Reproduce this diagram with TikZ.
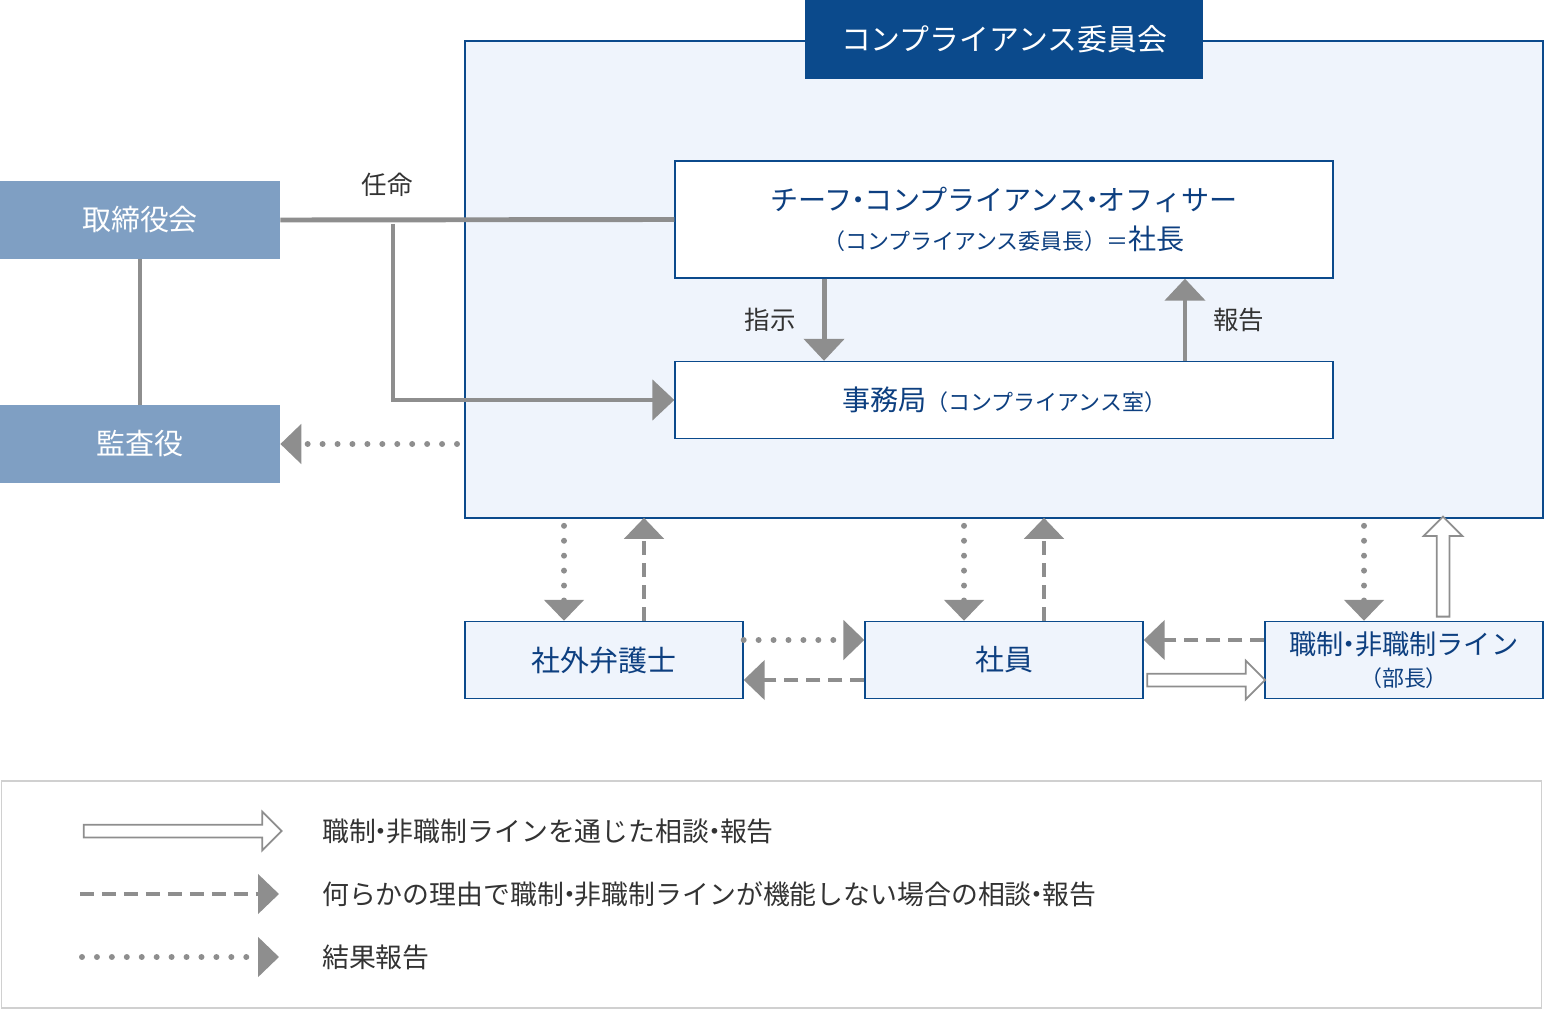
\documentclass[tikz,border=0pt]{standalone}
\usepackage{fontspec}
\setmainfont{Noto Sans CJK JP}
\usetikzlibrary{arrows.meta,shapes.arrows}
\definecolor{navy}{HTML}{0B4A8C}
\definecolor{inkblue}{HTML}{0D3F80}
\definecolor{paleblue}{HTML}{EFF4FC}
\definecolor{steel}{HTML}{7F9FC3}
\definecolor{midgray}{HTML}{8E8E8E}
\definecolor{framegray}{HTML}{D0D0D0}
\newcommand{\nkdot}{\kern-0.3em・\kern-0.3em}
\tikzset{
  side/.style={fill=steel,text=white,minimum width=5.6cm,minimum height=1.56cm,font=\fontsize{16.5}{19}\selectfont},
  unit/.style={draw=navy,line width=0.8pt,fill=paleblue,text=inkblue,minimum height=1.54cm,align=center},
  solid arr/.style={draw=midgray,line width=2.8pt,-{Triangle[length=0.44cm,width=0.8cm]}},
  plain/.style={draw=midgray,line width=2.8pt},
  dotted arr/.style={draw=midgray,line width=3.4pt,line cap=round,dash pattern=on 0pt off 8.5pt,-{Triangle[length=0.42cm,width=0.78cm]}},
  dashed arr/.style={draw=midgray,line width=2.8pt,dash pattern=on 8pt off 4.5pt,-{Triangle[length=0.42cm,width=0.78cm]}},
  hollow/.style={single arrow,draw=midgray,line width=1pt,fill=white,inner sep=0.11cm,
    single arrow head extend=0.26cm,single arrow head indent=0pt}
}
\begin{document}
\begin{tikzpicture}[x=0.02cm,y=-0.02cm]
    \useasboundingbox (0,0) rectangle (1544,1010);

    % committee frame
    \node[draw=navy,line width=0.8pt,fill=paleblue,minimum width=21.56cm,minimum height=9.54cm] (committee) at (1004,279.5) {};
    \node[fill=navy,text=white,minimum width=7.96cm,minimum height=1.58cm,font=\fontsize{17}{19}\selectfont] (title) at (1004,39.5) {コンプライアンス委員会};

    \node[side] (board) at (140,220) {取締役会};
    \node[side] (audit) at (140,444) {監査役};

    \node[unit,fill=white,minimum width=13.16cm,minimum height=2.34cm,font=\fontsize{16}{22}\selectfont] (cco) at (1004,219.5)
        {チーフ\nkdot コンプライアンス\nkdot オフィサー\\{\fontsize{12.5}{16}\selectfont （コンプライアンス委員長）＝}社長};
    \node[unit,fill=white,minimum width=13.16cm] (office) at (1004,400)
        {{\fontsize{16}{18}\selectfont 事務局}{\fontsize{12.5}{16}\selectfont （コンプライアンス室）}};

    \node[unit,minimum width=5.56cm,font=\fontsize{16.5}{19}\selectfont] (lawyer) at (604,660) {社外弁護士};
    \node[unit,minimum width=5.56cm,font=\fontsize{16.5}{19}\selectfont] (staff) at (1004,660) {社員};
    \node[unit,minimum width=5.56cm,font=\fontsize{15.5}{18}\selectfont] (line) at (1404,660)
        {職制\nkdot 非職制ライン\\{\fontsize{12.5}{15}\selectfont （部長）}};

    % upper links
    \draw[plain] (board) -- (audit);
    \draw[plain] (board.east) -- node[above=0.3cm,xshift=-1.8cm,text=black!80,font=\fontsize{14.5}{16}\selectfont] {任命} (cco.west);
    \coordinate (split) at (393,224);
    \draw[solid arr] (split) |- (office.west);
    \draw[solid arr] ([xshift=-3.6cm]cco.south) -- node[left=0.4cm,text=black!80,font=\fontsize{14.5}{16}\selectfont] {指示} ([xshift=-3.6cm]office.north);
    \draw[solid arr] ([xshift=3.62cm]office.north) -- node[right=0.4cm,text=black!80,font=\fontsize{14.5}{16}\selectfont] {報告} ([xshift=3.62cm]cco.south);
    \coordinate (report) at (457,444);
    \draw[dotted arr] (report) -- (audit.east);

    % lower links
    \foreach \unit in {lawyer,staff,line}{
        \draw[dotted arr] ([xshift=-0.8cm,yshift=1.9cm]\unit.north) -- ([xshift=-0.8cm]\unit.north);
    }
    \draw[dashed arr] ([xshift=0.8cm]lawyer.north) -- ([xshift=0.8cm,yshift=2.06cm]lawyer.north);
    \draw[dashed arr] ([xshift=0.8cm]staff.north) -- ([xshift=0.8cm,yshift=2.06cm]staff.north);
    \node[hollow,rotate=90,minimum height=2.0cm] (upline) at ([xshift=0.78cm,yshift=1.02cm]line.north) {};

    \draw[dotted arr] ([yshift=0.4cm]lawyer.east) -- ([yshift=0.4cm]staff.west);
    \draw[dashed arr] ([yshift=-0.4cm]staff.west) -- ([yshift=-0.4cm]lawyer.east);
    \draw[dashed arr] ([yshift=0.4cm]line.west) -- ([yshift=0.4cm]staff.east);
    \node[hollow,minimum height=2.36cm] (sideline) at (1203,680) {};

    % legend
    \node[draw=framegray,line width=0.8pt,minimum width=30.8cm,minimum height=4.54cm] (legend) at (771.5,894.5) {};
    \node[hollow,minimum height=3.96cm] (keyline) at (179.5,831) {};
    \coordinate (ka) at (80,894); \coordinate (kb) at (279,894);
    \coordinate (kc) at (82,957); \coordinate (kd) at (279,957);
    \draw[dashed arr] (ka) -- (kb);
    \draw[dotted arr] (kc) -- (kd);
    \begin{scope}[every node/.style={anchor=west,text=black!80,font=\fontsize{15.3}{17}\selectfont}]
        \node (t1) at (316,831) {職制\nkdot 非職制ラインを通じた相談\nkdot 報告};
        \node (t2) at (316,894) {何らかの理由で職制\nkdot 非職制ラインが機能しない場合の相談\nkdot 報告};
        \node (t3) at (316,957) {結果報告};
    \end{scope}
\end{tikzpicture}
\end{document}
